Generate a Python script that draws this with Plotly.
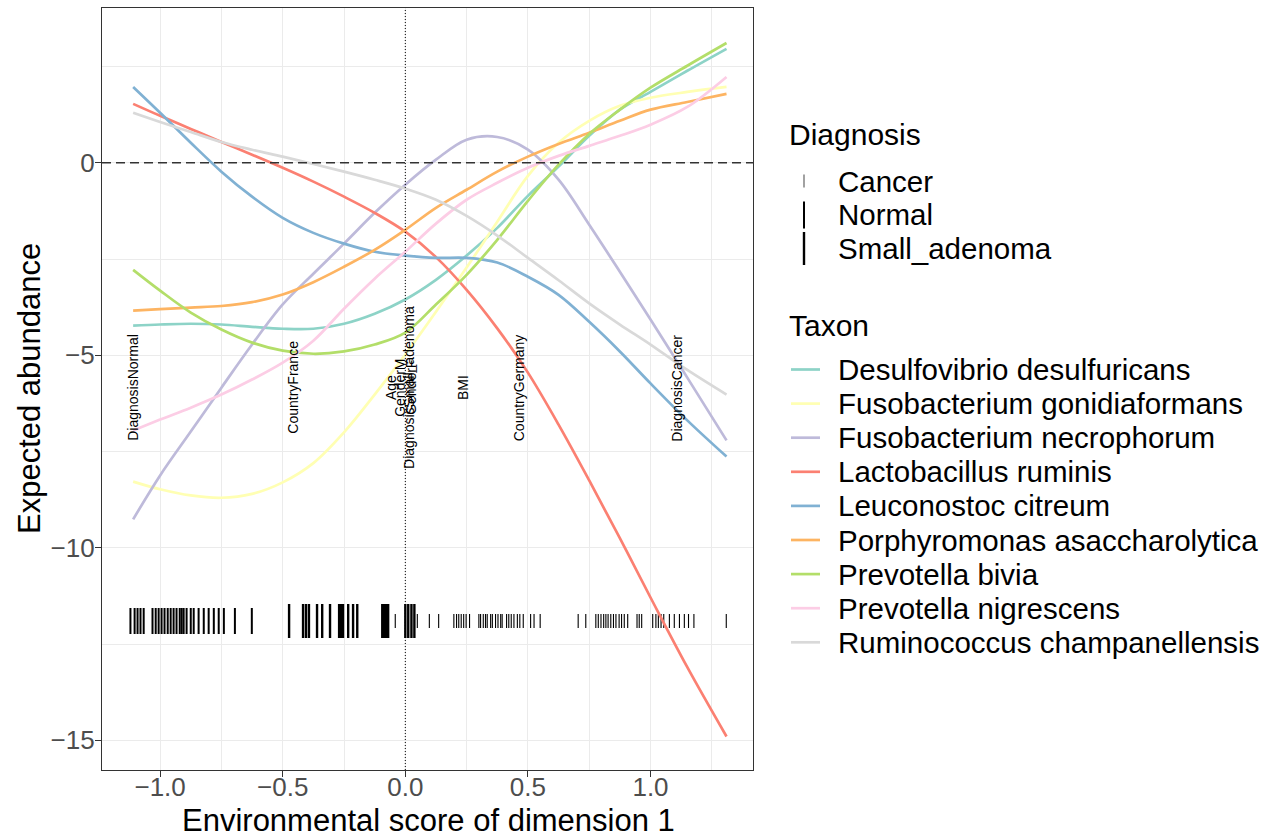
import plotly.graph_objects as go

# ---------------- data ----------------
x_grid = [-1.11, -1.0, -0.875, -0.75, -0.625, -0.5, -0.375, -0.25, -0.125, 0.0,
          0.125, 0.25, 0.375, 0.5, 0.625, 0.75, 0.875, 1.0, 1.15, 1.31]

taxa = ["Desulfovibrio desulfuricans", "Fusobacterium gonidiaformans",
        "Fusobacterium necrophorum", "Lactobacillus ruminis", "Leuconostoc citreum",
        "Porphyromonas asaccharolytica", "Prevotella bivia", "Prevotella nigrescens",
        "Ruminococcus champanellensis"]
taxon_colors = ["#8DD3C7", "#FFFFB3", "#BEBADA", "#FB8072", "#80B1D3",
                "#FDB462", "#B3DE69", "#FCCDE5", "#D9D9D9"]

desulfovibrio_desulfuricans = [-4.23, -4.20, -4.18, -4.20, -4.26, -4.31, -4.31, -4.18, -3.92, -3.55,
                               -3.04, -2.41, -1.69, -0.86, -0.10, 0.70, 1.38, 1.84, 2.39, 2.96]
fusobacterium_gonidiaformans = [-8.28, -8.48, -8.64, -8.70, -8.60, -8.30, -7.80, -7.00, -6.02, -4.98,
                                -3.87, -2.72, -1.53, -0.34, 0.52, 1.09, 1.48, 1.69, 1.84, 1.97]
fusobacterium_necrophorum = [-9.26, -8.12, -6.98, -5.84, -4.72, -3.68, -2.88, -2.10, -1.30, -0.57,
                             0.08, 0.60, 0.67, 0.34, -0.44, -1.61, -2.83, -4.07, -5.58, -7.21]
lactobacillus_ruminis = [1.53, 1.22, 0.88, 0.54, 0.21, -0.13, -0.49, -0.88, -1.30, -1.79,
                         -2.45, -3.30, -4.30, -5.45, -6.80, -8.25, -9.75, -11.29, -13.10, -14.90]
leuconostoc_citreum = [1.97, 1.30, 0.52, -0.23, -0.88, -1.43, -1.82, -2.10, -2.31, -2.41,
                       -2.47, -2.47, -2.59, -2.96, -3.43, -4.13, -4.90, -5.73, -6.69, -7.63]
porphyromonas_asaccharolytica = [-3.84, -3.80, -3.76, -3.72, -3.62, -3.42, -3.10, -2.70, -2.26, -1.74,
                                 -1.17, -0.70, -0.23, 0.16, 0.49, 0.78, 1.09, 1.38, 1.58, 1.79]
prevotella_bivia = [-2.78, -3.32, -3.89, -4.33, -4.67, -4.88, -4.96, -4.90, -4.72, -4.41,
                    -3.68, -2.91, -2.00, -0.99, -0.05, 0.75, 1.38, 1.95, 2.52, 3.11]
prevotella_nigrescens = [-6.95, -6.67, -6.36, -6.02, -5.63, -5.19, -4.62, -3.79, -3.01, -2.31,
                         -1.58, -0.96, -0.52, -0.13, 0.18, 0.44, 0.70, 0.99, 1.45, 2.23]
ruminococcus_champanellensis = [1.30, 1.06, 0.80, 0.54, 0.34, 0.16, -0.03, -0.23, -0.44, -0.67,
                                -0.96, -1.38, -1.89, -2.47, -3.05, -3.65, -4.20, -4.72, -5.38, -6.02]

taxon_values = [desulfovibrio_desulfuricans, fusobacterium_gonidiaformans, fusobacterium_necrophorum,
                lactobacillus_ruminis, leuconostoc_citreum, porphyromonas_asaccharolytica,
                prevotella_bivia, prevotella_nigrescens, ruminococcus_champanellensis]

# sample scores (rug) by diagnosis
rug_normal = [-1.121, -1.104, -1.092, -1.080, -1.067, -1.031, -1.018, -1.006, -0.994, -0.982,
              -0.969, -0.957, -0.945, -0.933, -0.920, -0.912, -0.904, -0.892, -0.875, -0.863,
              -0.843, -0.822, -0.802, -0.781, -0.761, -0.740, -0.695, -0.626]
rug_small_adenoma = [-0.474, -0.417, -0.405, -0.393, -0.360, -0.339, -0.307, -0.270, -0.262, -0.254,
                     -0.233, -0.213, -0.196, -0.094, -0.086, -0.078, -0.070, 0.0, 0.012, 0.025, 0.037]
rug_cancer = [-0.041, 0.049, 0.098, 0.136, 0.198, 0.209, 0.218, 0.228, 0.238, 0.248, 0.262, 0.300,
              0.307, 0.318, 0.327, 0.334, 0.348, 0.355, 0.368, 0.378, 0.389, 0.395, 0.413, 0.422,
              0.432, 0.443, 0.457, 0.467, 0.481, 0.511, 0.525, 0.550, 0.705, 0.736, 0.777, 0.787,
              0.798, 0.809, 0.818, 0.827, 0.838, 0.849, 0.859, 0.872, 0.882, 0.893, 0.907, 0.945,
              0.954, 0.964, 1.009, 1.022, 1.032, 1.043, 1.054, 1.077, 1.097, 1.118, 1.138, 1.155,
              1.177, 1.309]
rug_level = -11.9
diagnoses = ["Cancer", "Normal", "Small_adenoma"]

# variable labels (biplot)
var_labels = ["DiagnosisNormal", "CountryFrance", "Age", "GenderM", "DiagnosisSmall_adenoma",
              "GenderF", "BMI", "CountryGermany", "DiagnosisCancer"]
var_x = [-1.11, -0.458, -0.061, -0.025, 0.012, 0.02, 0.233, 0.462, 1.108]
var_label_level = -5.84

x_ticks = [-1.0, -0.5, 0.0, 0.5, 1.0]
x_ticktext = ["\u22121.0", "\u22120.5", "0.0", "0.5", "1.0"]
y_ticks = [0, -5, -10, -15]
y_ticktext = ["0", "\u22125", "\u221210", "\u221215"]
x_title = "Environmental score of dimension 1"
y_title = "Expected abundance"

FONT = "Liberation Sans, Arial, sans-serif"

fig = go.Figure()

# rug of sample scores
rug_sets = [(rug_cancer, 10, 1.1), (rug_normal, 18.6, 2.0), (rug_small_adenoma, 24.3, 2.4)]
for xs, sz, lw in rug_sets:
    fig.add_trace(go.Scatter(
        x=xs, y=[rug_level] * len(xs), mode="markers",
        marker=dict(symbol="line-ns", size=sz, color="black", line=dict(width=lw, color="black")),
        showlegend=False, hoverinfo="skip"))

# response curves
for name, col, vals in zip(taxa, taxon_colors, taxon_values):
    fig.add_trace(go.Scatter(
        x=x_grid, y=vals, mode="lines", name=name,
        line=dict(color=col, width=2.7, shape="spline", smoothing=1.0),
        showlegend=False))

# variable labels
for lab, xv in zip(var_labels, var_x):
    fig.add_annotation(x=xv, y=var_label_level, text=lab, textangle=-90, showarrow=False,
                       font=dict(family=FONT, size=14, color="black"))

# reference lines
fig.add_shape(type="line", xref="x", yref="paper", x0=0, x1=0, y0=0, y1=1,
              line=dict(color="black", width=1, dash="1px,2px"), layer="above")
fig.add_shape(type="line", xref="paper", yref="y", x0=0, x1=1, y0=0, y1=0,
              line=dict(color="#333333", width=1.5, dash="9px,5px"), layer="above")

# ---------------- manual legend & axis titles ----------------
PL, PR, PT, PB = 102, 753, 8, 770


def px_x(px):
    return (px - PL) / (PR - PL)


def px_y(py):
    return (PB - py) / (PB - PT)


fig.add_annotation(xref="paper", yref="paper", x=px_x(428), y=px_y(820), text=x_title,
                   xanchor="center", yanchor="middle", showarrow=False,
                   font=dict(family=FONT, size=31, color="black"))
fig.add_annotation(xref="paper", yref="paper", x=px_x(29), y=px_y(389), text=y_title,
                   textangle=-90, xanchor="center", yanchor="middle", showarrow=False,
                   font=dict(family=FONT, size=31, color="black"))

fig.add_annotation(xref="paper", yref="paper", x=px_x(787), y=px_y(135), text="Diagnosis",
                   xanchor="left", yanchor="middle", showarrow=False,
                   font=dict(family=FONT, size=30, color="black"))
diag_keys = [(181, 13, 1.1, "#555555"), (215, 27, 2.0, "black"), (248.5, 33, 2.4, "black")]
for lab, (cy, h, lw, col) in zip(diagnoses, diag_keys):
    fig.add_shape(type="line", xref="paper", yref="paper", x0=px_x(804), x1=px_x(804),
                  y0=px_y(cy - h / 2), y1=px_y(cy + h / 2), line=dict(color=col, width=lw))
    fig.add_annotation(xref="paper", yref="paper", x=px_x(836), y=px_y(cy), text=lab,
                       xanchor="left", yanchor="middle", showarrow=False,
                       font=dict(family=FONT, size=29.5, color="black"))

fig.add_annotation(xref="paper", yref="paper", x=px_x(787), y=px_y(325), text="Taxon",
                   xanchor="left", yanchor="middle", showarrow=False,
                   font=dict(family=FONT, size=30, color="black"))
for i, (name, col) in enumerate(zip(taxa, taxon_colors)):
    cy = 369.5 + 34.1 * i
    fig.add_shape(type="line", xref="paper", yref="paper", x0=px_x(791), x1=px_x(820),
                  y0=px_y(cy), y1=px_y(cy), line=dict(color=col, width=2.7))
    fig.add_annotation(xref="paper", yref="paper", x=px_x(836), y=px_y(cy), text=name,
                       xanchor="left", yanchor="middle", showarrow=False,
                       font=dict(family=FONT, size=29.5, color="black"))

axis_common = dict(showline=True, mirror=True, linecolor="#333333", linewidth=1.3,
                   showgrid=True, gridcolor="#EBEBEB", gridwidth=1.3, zeroline=False,
                   ticks="outside", ticklen=6, tickwidth=1.3, tickcolor="#333333",
                   automargin=False,
                   tickfont=dict(family=FONT, size=26, color="#4D4D4D"))

fig.update_layout(
    width=1271, height=838,
    margin=dict(l=PL, r=1271 - PR, t=PT, b=838 - PB, autoexpand=False),
    plot_bgcolor="white", paper_bgcolor="white",
    showlegend=False,
    xaxis=dict(range=[-1.237, 1.418], tickvals=x_ticks, ticktext=x_ticktext,
               ticklabelstandoff=-12,
               minor=dict(tickvals=[-0.75, -0.25, 0.25, 0.75, 1.25], showgrid=True,
                          gridcolor="#EBEBEB", gridwidth=0.7, ticks=""),
               **axis_common),
    yaxis=dict(range=[-15.77, 4.02], tickvals=y_ticks, ticktext=y_ticktext,
               ticklabelstandoff=-5,
               minor=dict(tickvals=[2.5, -2.5, -7.5, -12.5], showgrid=True,
                          gridcolor="#EBEBEB", gridwidth=0.7, ticks=""),
               **axis_common),
)

fig.write_html("out.html")
